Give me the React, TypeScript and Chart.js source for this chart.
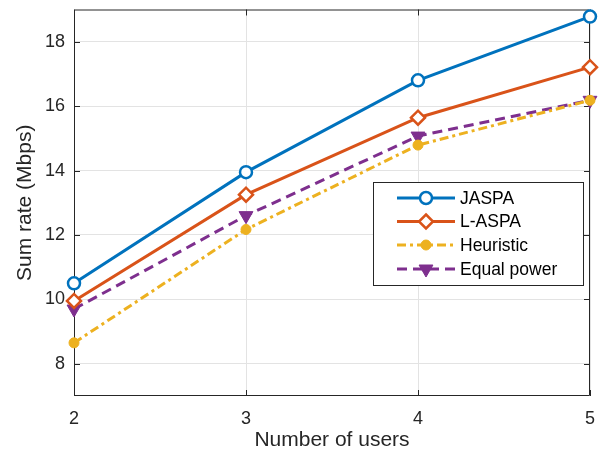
import React, { useEffect, useRef } from "react";
import { Chart, registerables } from "chart.js";

Chart.register(...registerables);

const users = [2, 3, 4, 5];
const jaspa = [10.5, 13.95, 16.8, 18.78];
const laspa = [9.95, 13.25, 15.64, 17.21];
const heuristic = [8.65, 12.17, 14.79, 16.18];
const equalPower = [9.7, 12.6, 15.07, 16.18];
const yTicks = [8, 10, 12, 14, 16, 18];
const xTicks = [2, 3, 4, 5];
const seriesNames = ["JASPA", "L-ASPA", "Heuristic", "Equal power"];

const FONT = "'Liberation Sans', Arial, Helvetica, sans-serif";
const AXIS_COLOR = "#262626";

const framePlugin = {
  id: "frame",
  beforeDatasetsDraw(chart: any) {
    const { ctx, chartArea: a, scales } = chart;
    ctx.save();
    ctx.strokeStyle = AXIS_COLOR;
    ctx.lineWidth = 1;
    ctx.beginPath();
    ctx.rect(a.left + 0.5, a.top + 0.5, a.right - a.left - 1, a.bottom - a.top - 1);
    ctx.stroke();
    const tl = 6;
    ctx.beginPath();
    for (const v of yTicks) {
      const y = Math.round(scales.y.getPixelForValue(v)) + 0.5;
      ctx.moveTo(a.left, y);
      ctx.lineTo(a.left + tl, y);
      ctx.moveTo(a.right, y);
      ctx.lineTo(a.right - tl, y);
    }
    for (const v of xTicks) {
      const x = Math.round(scales.x.getPixelForValue(v)) + 0.5;
      ctx.moveTo(x, a.bottom);
      ctx.lineTo(x, a.bottom - tl);
      ctx.moveTo(x, a.top);
      ctx.lineTo(x, a.top + tl);
    }
    ctx.stroke();
    ctx.restore();
  },
};

function drawMarker(ctx: any, style: string, r: number, x: number, y: number, rot: number) {
  ctx.beginPath();
  if (style === "circle") {
    ctx.arc(x, y, r, 0, Math.PI * 2);
  } else if (style === "rectRot") {
    ctx.moveTo(x, y - r);
    ctx.lineTo(x + r, y);
    ctx.lineTo(x, y + r);
    ctx.lineTo(x - r, y);
    ctx.closePath();
  } else if (style === "triangle") {
    let rad = (rot * Math.PI) / 180;
    for (let k = 0; k < 3; k++) {
      const px = x + Math.sin(rad) * r;
      const py = y - Math.cos(rad) * r;
      if (k === 0) ctx.moveTo(px, py);
      else ctx.lineTo(px, py);
      rad += (2 * Math.PI) / 3;
    }
    ctx.closePath();
  }
  ctx.fill();
  ctx.stroke();
}

const legendPlugin = {
  id: "customLegend",
  afterDraw(chart: any) {
    const { ctx } = chart;
    const bx = 373, by = 182, bw = 210, bh = 103;
    ctx.save();
    ctx.fillStyle = "#ffffff";
    ctx.fillRect(bx, by, bw, bh);
    ctx.strokeStyle = AXIS_COLOR;
    ctx.lineWidth = 1;
    ctx.strokeRect(bx + 0.5, by + 0.5, bw, bh);
    const rows = [198, 221.5, 245, 269];
    chart.data.datasets.forEach((ds: any, i: number) => {
      const y = rows[i];
      ctx.save();
      ctx.strokeStyle = ds.borderColor;
      ctx.lineWidth = ds.borderWidth;
      ctx.setLineDash(ds.borderDash || []);
      ctx.beginPath();
      ctx.moveTo(397, y);
      ctx.lineTo(455, y);
      ctx.stroke();
      ctx.setLineDash([]);
      ctx.restore();
      ctx.save();
      ctx.lineWidth = ds.pointBorderWidth;
      ctx.strokeStyle = ds.pointBorderColor;
      ctx.fillStyle = ds.pointBackgroundColor;
      drawMarker(ctx, ds.pointStyle, ds.pointRadius, 426, y, ds.pointRotation || 0);
      ctx.restore();
      ctx.fillStyle = "#000000";
      ctx.font = `17.5px ${FONT}`;
      ctx.textBaseline = "middle";
      ctx.textAlign = "left";
      ctx.fillText(ds.label, 460, y + 1);
    });
    ctx.restore();
  },
};

export default function App() {
  const ref = useRef<HTMLCanvasElement | null>(null);
  useEffect(() => {
    document.body.style.margin = "0";
    const mk = (arr: number[]) => users.map((u, i) => ({ x: u, y: arr[i] }));
    const chart = new Chart(ref.current as HTMLCanvasElement, {
      type: "line",
      data: {
        datasets: [
          {
            label: seriesNames[0],
            data: mk(jaspa),
            borderColor: "#0072BD",
            borderWidth: 3,
            pointStyle: "circle",
            pointRadius: 6,
            pointBorderWidth: 2.5,
            pointBorderColor: "#0072BD",
            pointBackgroundColor: "#ffffff",
            tension: 0,
            clip: false,
          },
          {
            label: seriesNames[1],
            data: mk(laspa),
            borderColor: "#D95319",
            borderWidth: 3,
            pointStyle: "rectRot",
            pointRadius: 7,
            pointBorderWidth: 2.5,
            pointBorderColor: "#D95319",
            pointBackgroundColor: "#ffffff",
            tension: 0,
            clip: false,
          },
          {
            label: seriesNames[2],
            data: mk(heuristic),
            borderColor: "#EDB120",
            borderWidth: 3,
            borderDash: [9, 4, 3, 4],
            pointStyle: "circle",
            pointRadius: 5,
            pointBorderWidth: 1,
            pointBorderColor: "#EDB120",
            pointBackgroundColor: "#EDB120",
            tension: 0,
            clip: false,
          },
          {
            label: seriesNames[3],
            data: mk(equalPower),
            borderColor: "#7E2F8E",
            borderWidth: 3,
            borderDash: [10, 6],
            pointStyle: "triangle",
            pointRotation: 180,
            pointRadius: 8,
            pointBorderWidth: 1,
            pointBorderColor: "#7E2F8E",
            pointBackgroundColor: "#7E2F8E",
            tension: 0,
            clip: false,
          },
        ] as any,
      },
      options: {
        animation: false,
        responsive: false,
        maintainAspectRatio: false,
        layout: { padding: { top: 8, right: 15, left: 0, bottom: 0 } },
        plugins: {
          legend: { display: false },
          tooltip: { enabled: false },
        },
        scales: {
          x: {
            type: "linear",
            min: 2,
            max: 5,
            afterBuildTicks: (s: any) => {
              s.ticks = xTicks.map((v) => ({ value: v }));
            },
            afterFit: (s: any) => {
              s.height = 64;
              s.paddingLeft = 0;
              s.paddingRight = 0;
            },
            grid: { color: "#e3e3e3", lineWidth: 1, drawTicks: false },
            border: { display: false },
            ticks: {
              color: AXIS_COLOR,
              font: { family: FONT, size: 18 },
              padding: 12,
            },
            title: {
              display: true,
              text: "Number of users",
              color: AXIS_COLOR,
              font: { family: FONT, size: 21 },
              padding: { top: 0, bottom: 7 },
            },
          },
          y: {
            type: "linear",
            min: 7,
            max: 19,
            afterBuildTicks: (s: any) => {
              s.ticks = yTicks.map((v) => ({ value: v }));
            },
            afterFit: (s: any) => {
              s.width = 74;
              s.paddingTop = 0;
              s.paddingBottom = 0;
            },
            grid: { color: "#e3e3e3", lineWidth: 1, drawTicks: false },
            border: { display: false },
            ticks: {
              color: AXIS_COLOR,
              font: { family: FONT, size: 18 },
              padding: 9,
            },
            title: {
              display: true,
              text: "Sum rate (Mbps)",
              color: AXIS_COLOR,
              font: { family: FONT, size: 21 },
              padding: { top: 13, bottom: 0 },
            },
          },
        },
      },
      plugins: [framePlugin, legendPlugin],
    });
    return () => chart.destroy();
  }, []);
  return (
    <div style={{ position: "absolute", left: 0, top: 0, width: 605, height: 460 }}>
      <canvas ref={ref} width={605} height={460} style={{ display: "block", width: 605, height: 460 }} />
    </div>
  );
}
